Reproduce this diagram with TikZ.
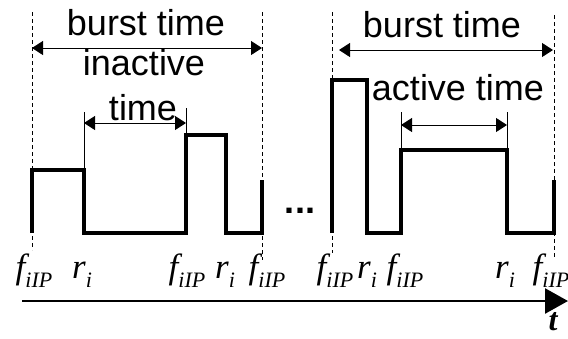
\documentclass[tikz,border=0pt]{standalone}
\usepackage{fontspec}
\setmainfont{Liberation Sans}
\newfontfamily\tms{Liberation Serif}
\usetikzlibrary{arrows.meta}
\tikzset{
  sig/.style={line width=3.2pt, line join=miter, line cap=butt},
  guide/.style={dash pattern=on 4pt off 3pt, line width=0.7pt},
  dim/.style={line width=1pt, {Triangle[length=11pt,width=14pt]}-{Triangle[length=11pt,width=14pt]}},
  tickln/.style={line width=0.8pt},
  lbl/.style={font=\fontsize{36}{36}\selectfont, anchor=base, inner sep=0pt},
  ml/.style={font=\tms\itshape\fontsize{35}{35}\selectfont, anchor=base, inner sep=0pt},
}
\newcommand{\fiip}{f{\fontsize{22}{22}\selectfont\raisebox{-9pt}{iIP}}}
\newcommand{\rii}{r{\fontsize{22}{22}\selectfont\raisebox{-9pt}{i}}}
\begin{document}
\begin{tikzpicture}[x=1pt,y=-1pt]
\useasboundingbox (0,0) rectangle (568,338);
% guide coordinates
\coordinate (g1t) at (32,12);  \coordinate (g1b) at (32,250);
\coordinate (g2t) at (262,12); \coordinate (g2b) at (262,260);
\coordinate (g3t) at (332,12); \coordinate (g3b) at (332,253);
\coordinate (g4t) at (554,15); \coordinate (g4b) at (554,258);
\draw[guide] (g1t) -- (g1b);
\draw[guide] (g2t) -- (g2b);
\draw[guide] (g3t) -- (g3b);
\draw[guide] (g4t) -- (g4b);
% waveforms
\draw[sig] (32,233) -- (32,170) -- (84,170) -- (84,233) -- (186,233) -- (186,135) -- (226,135) -- (226,233) -- (262,233) -- (262,180);
\draw[sig] (332,233) -- (332,80) -- (367,80) -- (367,233) -- (401,233) -- (401,150) -- (507,150) -- (507,233) -- (554,233) -- (554,180);
% ticks for inner dimensions
\coordinate (i1t) at (84,112);  \coordinate (i1b) at (84,170);
\coordinate (i2t) at (186,108); \coordinate (i2b) at (186,135);
\coordinate (a1t) at (401,112); \coordinate (a1b) at (401,150);
\coordinate (a2t) at (507,112); \coordinate (a2b) at (507,150);
\draw[tickln] (i1t) -- (i1b);
\draw[tickln] (i2t) -- (i2b);
\draw[tickln] (a1t) -- (a1b);
\draw[tickln] (a2t) -- (a2b);
% dimension arrows
\coordinate (b1l) at (32,48);  \coordinate (b1r) at (262,48);
\coordinate (inl) at (84,123); \coordinate (inr) at (186,123);
\coordinate (b2l) at (339,50); \coordinate (b2r) at (553,50);
\coordinate (acl) at (401,125);\coordinate (acr) at (507,125);
\draw[dim] (b1l) -- (b1r);
\draw[dim] (inl) -- (inr);
\draw[dim] (b2l) -- (b2r);
\draw[dim] (acl) -- (acr);
% texts
\node[lbl] (bt1) at (146,35) {burst time};
\node[lbl] (ina) at (144,75) {inactive};
\node[lbl] (tim) at (143,120) {time};
\node[lbl] (bt2) at (442,37) {burst time};
\node[lbl] (act) at (458,100) {active time};
\node[font=\bfseries\fontsize{36}{36}\selectfont, anchor=base, inner sep=0pt] (dots) at (300,213) {...};
% tick labels
\node[ml] (l1) at (34,278) {\fiip};
\node[ml] (l2) at (82,278) {\rii};
\node[ml] (l3) at (187,278) {\fiip};
\node[ml] (l4) at (225,278) {\rii};
\node[ml] (l5) at (267,278) {\fiip};
\node[ml] (l6) at (335,278) {\fiip};
\node[ml] (l7) at (367,278) {\rii};
\node[ml] (l8) at (405,278) {\fiip};
\node[ml] (l9) at (505,278) {\rii};
\node[ml] (l10) at (551,278) {\fiip};
% time axis
\coordinate (ax0) at (22,301);
\coordinate (ax1) at (568,301);
\draw[line width=2.6pt, -{Triangle[length=23pt,width=25pt]}] (ax0) -- (ax1);
\node[font=\tms\bfseries\itshape\fontsize{32}{32}\selectfont, anchor=base, inner sep=0pt] (t) at (553,330) {t};
\end{tikzpicture}
\end{document}
